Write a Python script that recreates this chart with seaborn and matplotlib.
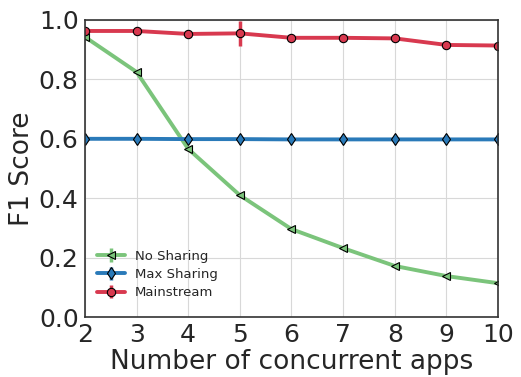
import numpy as np
import seaborn as sns
import matplotlib
matplotlib.use("Agg")
import matplotlib.pyplot as plt

apps = [2, 3, 4, 5, 6, 7, 8, 9, 10]
no_sharing = [0.943, 0.825, 0.566, 0.410, 0.296, 0.232, 0.172, 0.138, 0.114]
max_sharing = [0.600, 0.600, 0.599, 0.599, 0.598, 0.598, 0.598, 0.598, 0.598]
mainstream = [0.963, 0.963, 0.953, 0.955, 0.940, 0.940, 0.938, 0.916, 0.914]
mainstream_err = [0.0, 0.0, 0.0, 0.042, 0.0, 0.0, 0.0, 0.0, 0.0]
zero_err = [0.0] * len(apps)

sns.set_style("whitegrid", {"axes.edgecolor": "#333333", "grid.color": "#d8d8d8"})
plt.rcParams['font.family'] = ['DejaVu Sans']

fig, ax = plt.subplots(figsize=(5.21, 3.77), dpi=100)
fig.subplots_adjust(left=0.163, right=0.956, top=0.947, bottom=0.159)

ax.errorbar(apps, no_sharing, yerr=zero_err, color='#7bc47b', lw=2.8, marker='<',
            ms=6, mec='black', mew=0.8, mfc='#7bc47b', elinewidth=2.5, label='No Sharing')
ax.errorbar(apps, max_sharing, yerr=zero_err, color='#2a7ab9', lw=2.8, marker='d',
            ms=6, mec='black', mew=0.8, mfc='#2a7ab9', elinewidth=2.5, label='Max Sharing')
ax.errorbar(apps, mainstream, yerr=mainstream_err, color='#d8394f', lw=2.8, marker='o',
            ms=6, mec='black', mew=0.8, mfc='#d8394f', elinewidth=2.5, label='Mainstream')

ax.set_xlim(2, 10)
ax.set_ylim(0, 1.0)
ax.set_xticks(apps)
ax.set_yticks([0.0, 0.2, 0.4, 0.6, 0.8, 1.0])
ax.tick_params(labelsize=18, colors='#262626', pad=1)
ax.set_xlabel('Number of concurrent apps', fontsize=19, color='#262626', labelpad=1)
ax.set_ylabel('F1 Score', fontsize=19, color='#262626', labelpad=3)
for s in ax.spines.values():
    s.set_linewidth(1.2)

ax.legend(loc='lower left', bbox_to_anchor=(0.0, 0.02), frameon=False, fontsize=9.5,
          handlelength=2.1, labelspacing=0.4)

plt.savefig('out.png', dpi=100)
